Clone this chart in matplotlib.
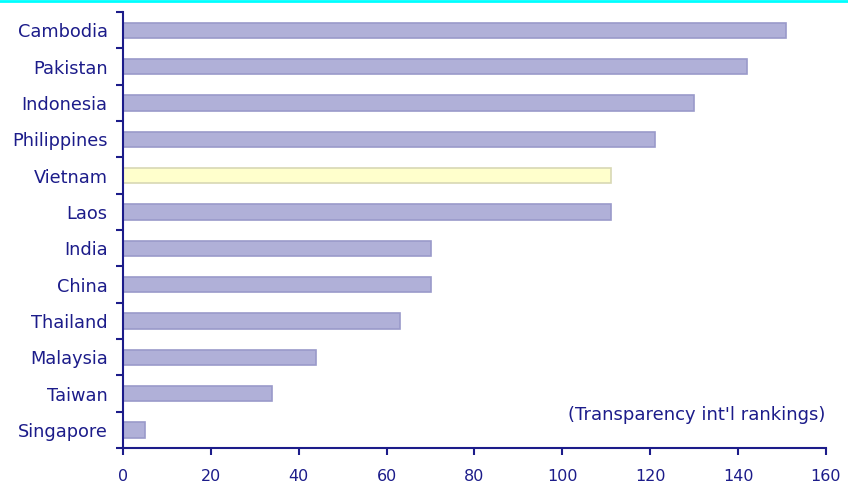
import numpy as np
import matplotlib
matplotlib.use("Agg")
import matplotlib.pyplot as plt
from matplotlib.lines import Line2D

# Transparency International rankings by country
countries = ["Cambodia", "Pakistan", "Indonesia", "Philippines", "Vietnam", "Laos",
             "India", "China", "Thailand", "Malaysia", "Taiwan", "Singapore"]
rankings = [151, 142, 130, 121, 111, 111, 70, 70, 63, 44, 34, 5]
highlight = "Vietnam"
x_ticks = [0, 20, 40, 60, 80, 100, 120, 140, 160]

navy = "#1c1c8a"
plt.rcParams["font.family"] = ["DejaVu Sans"]

fig = plt.figure(figsize=(8.48, 4.87), dpi=100)
ax = fig.add_axes([0.145, 0.080, 0.829, 0.895])

pos = np.arange(len(countries))
fills = ["#ffffcc" if c == highlight else "#b0b0d8" for c in countries]
edges = ["#d8d8b4" if c == highlight else "#9a9aca" for c in countries]
ax.barh(pos, rankings, height=0.42, color=fills, edgecolor=edges, linewidth=1.2)

ax.set_xlim(0, 160)
ax.set_ylim(len(countries) - 0.5, -0.5)
ax.set_xticks(x_ticks)
ax.set_yticks(pos)
ax.set_yticklabels(countries, va="center_baseline")
ax.set_yticks(np.arange(len(countries) + 1) - 0.5, minor=True)

ax.tick_params(axis="y", which="major", length=0, pad=11, labelsize=12.8, labelcolor=navy)
ax.tick_params(axis="y", which="minor", length=5, width=1.5, color=navy)
ax.tick_params(axis="x", length=5, width=1.5, color=navy, labelsize=11.5,
               labelcolor=navy, pad=10)

for side in ["top", "right"]:
    ax.spines[side].set_visible(False)
for side in ["left", "bottom"]:
    ax.spines[side].set_color(navy)
    ax.spines[side].set_linewidth(1.5)

ax.text(0.999, 0.076, "(Transparency int'l rankings)", transform=ax.transAxes,
        ha="right", va="center", fontsize=13, color=navy)

# thin cyan rule across the top edge
fig.add_artist(Line2D([0, 1], [0.998, 0.998], transform=fig.transFigure,
                      color="#00ffff", linewidth=2))

fig.savefig("out.png", dpi=100)
